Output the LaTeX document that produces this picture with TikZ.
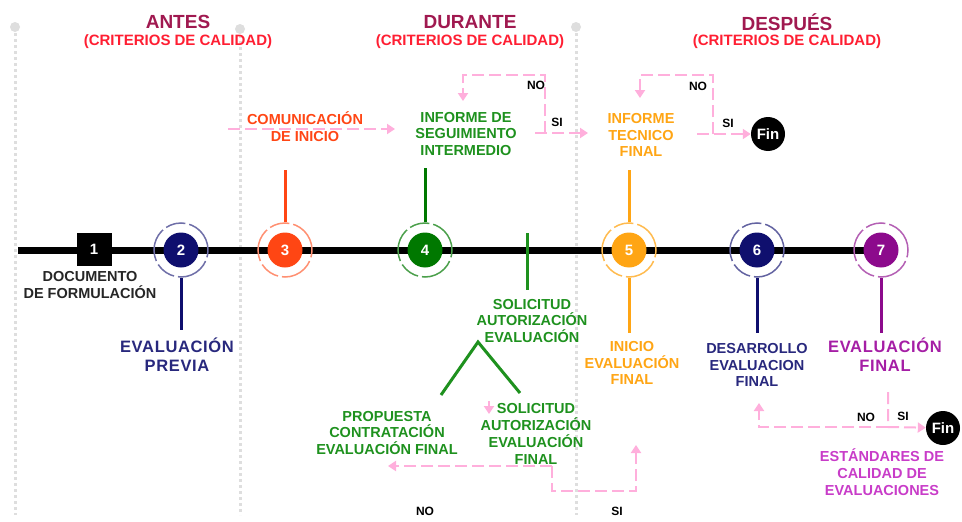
\documentclass[tikz,border=0pt]{standalone}
\usepackage{fontspec}
\setmainfont{Liberation Sans}
\newfontfamily\ancha[LetterSpace=4]{Liberation Sans}
\usepackage{xcolor}
\usepackage{tikz}
\usetikzlibrary{arrows.meta}
\definecolor{titulo}{RGB}{160,25,80}
\definecolor{criterio}{RGB}{255,30,50}
\definecolor{rosa}{RGB}{255,175,220}
\definecolor{gris}{RGB}{222,222,222}
\definecolor{rojo}{RGB}{255,70,20}
\definecolor{verde}{RGB}{30,145,30}
\definecolor{verdeo}{RGB}{0,120,0}
\definecolor{naranja}{RGB}{255,165,20}
\definecolor{azul}{RGB}{15,15,110}
\definecolor{azulc}{RGB}{40,40,125}
\definecolor{morado}{RGB}{140,10,140}
\definecolor{moradoc}{RGB}{165,30,165}
\definecolor{lila}{RGB}{200,60,200}
\tikzstyle{circulo} = [circle, minimum size=35pt, inner sep=0pt, text=white, font=\bfseries\fontsize{15}{15}\selectfont]
\tikzstyle{anillo} = [circle, minimum size=54pt, inner sep=0pt, line width=1.5pt, dash pattern=on 34pt off 4pt on 20pt off 4pt]
\tikzstyle{etiqueta} = [align=center, inner sep=0pt, font=\bfseries\fontsize{14.5}{16.8}\selectfont]
\tikzstyle{grande} = [align=center, inner sep=0pt, font=\ancha\bfseries\fontsize{16.5}{19}\selectfont]
\tikzstyle{rama} = [line width=3pt]
\tikzstyle{flecha} = [rosa, line width=2pt, dash pattern=on 12pt off 5pt, -{Triangle[length=8pt,width=10pt]}]
\tikzstyle{fin} = [circle, fill=black, minimum size=34pt, inner sep=0pt, text=white, font=\bfseries\fontsize{15}{15}\selectfont]
\tikzstyle{sino} = [inner sep=0pt, font=\bfseries\fontsize{12}{12}\selectfont]
\tikzstyle{guia} = [gris, line width=3pt, dash pattern=on 3pt off 3pt]

\begin{document}
\begin{tikzpicture}[x=1pt, y=-1pt, >=Stealth]
    \useasboundingbox (0,0) rectangle (962,522);

    % guias verticales
    \foreach \gx/\gy in {15/27, 240/29, 576/27} {
        \fill[gris] (\gx,\gy) circle (5pt);
        \draw[guia] (\gx,\gy+6) -- (\gx,515);
    }

    % titulos de etapa
    \node[text=titulo, font=\bfseries\fontsize{19}{19}\selectfont] (antes) at (178,22) {ANTES};
    \node[text=criterio, font=\bfseries\fontsize{15}{15}\selectfont] (crit1) at (178,42) {(CRITERIOS DE CALIDAD)};
    \node[text=titulo, font=\bfseries\fontsize{19}{19}\selectfont] (durante) at (470,22) {DURANTE};
    \node[text=criterio, font=\bfseries\fontsize{15}{15}\selectfont] (crit2) at (470,42) {(CRITERIOS DE CALIDAD)};
    \node[text=titulo, font=\bfseries\fontsize{19}{19}\selectfont] (despues) at (787,22) {DESPUÉS};
    \node[text=criterio, font=\bfseries\fontsize{15}{15}\selectfont] (crit3) at (787,42) {(CRITERIOS DE CALIDAD)};

    % linea de tiempo
    \coordinate (ini) at (18,250);
    \coordinate (fin7) at (867,250);
    \draw[line width=7pt] (ini) -- (fin7);

    % paso 1
    \node[fill=black, minimum width=35pt, minimum height=33pt, inner sep=0pt, text=white,
          font=\bfseries\fontsize{15}{15}\selectfont] (n1) at (94,249) {1};

    % pasos 2 a 7
    \foreach \i/\cx/\cf/\cr in {2/181/azul/azul!60, 3/285/rojo/rojo!60, 4/425/verdeo/verdeo!70,
                                5/629/naranja/naranja!75, 6/757/azul/azul!65, 7/881/morado/morado!65} {
        \node[circulo, fill=\cf] (n\i) at (\cx,250) {\i};
        \node[anillo, draw=\cr] (r\i) at (\cx,250) {};
    }

    % ramas
    \coordinate (s2) at (181,330);
    \coordinate (s3) at (285,170);
    \coordinate (s4) at (425,168);
    \coordinate (s5a) at (629,170);
    \coordinate (s5b) at (629,333);
    \coordinate (s6) at (757,333);
    \coordinate (s7) at (881,333);
    \draw[rama, azul] (r2) -- (s2);
    \draw[rama, rojo] (s3) -- (r3);
    \draw[rama, verdeo] (s4) -- (r4);
    \draw[rama, naranja] (s5a) -- (r5);
    \draw[rama, naranja] (r5) -- (s5b);
    \draw[rama, azul] (r6) -- (s6);
    \draw[rama, morado] (r7) -- (s7);

    % solicitud y bifurcacion
    \coordinate (t1) at (527,233);
    \coordinate (t2) at (527,290);
    \draw[rama, verde] (t1) -- (t2);
    \coordinate (v1) at (441,395);
    \coordinate (v2) at (478,342);
    \coordinate (v3) at (520,393);
    \draw[rama, verde] (v1) -- (v2) -- (v3);

    % fin
    \node[fin] (fin1) at (768,134) {Fin};
    \node[fin] (fin2) at (943,428) {Fin};

    % flechas rosadas
    \coordinate (p1) at (228,129);
    \coordinate (p2) at (395,129);
    \draw[flecha] (p1) -- (p2);

    \coordinate (a1) at (535,133);
    \coordinate (a2) at (545,133);
    \coordinate (a3) at (545,75);
    \coordinate (a4) at (463,75);
    \coordinate (a5) at (463,101);
    \coordinate (a6) at (588,133);
    \draw[flecha] (a1) -- (a6);
    \draw[flecha] (a2) -- (a3) -- (a4) -- (a5);

    \coordinate (b1) at (697,134);
    \coordinate (b2) at (713,134);
    \coordinate (b3) at (713,75);
    \coordinate (b4) at (640,75);
    \coordinate (b5) at (640,98);
    \draw[flecha] (b1) -- (fin1);
    \draw[flecha] (b2) -- (b3) -- (b4) -- (b5);

    \coordinate (c1) at (888,392);
    \coordinate (c2) at (888,427);
    \coordinate (c3) at (759,427);
    \coordinate (c4) at (759,403);
    \draw[flecha] (c1) -- (c2) -- (fin2);
    \draw[flecha] (c2) -- (c3) -- (c4);

    \coordinate (d1) at (552,466);
    \coordinate (d2) at (388,466);
    \coordinate (d3) at (552,491);
    \coordinate (d4) at (636,491);
    \coordinate (d5) at (636,445);
    \draw[flecha] (d1) -- (d2);
    \draw[flecha] (d1) -- (d3) -- (d4) -- (d5);

    \coordinate (e1) at (489,401);
    \coordinate (e2) at (489,414);
    \draw[flecha] (e1) -- (e2);

    % etiquetas
    \node[etiqueta, text=black!85] (lab1) at (90,285) {DOCUMENTO\\DE FORMULACIÓN};
    \node[grande, text=azulc] (lab2) at (177,355) {EVALUACIÓN\\PREVIA};
    \node[etiqueta, text=rojo] (lab3) at (305,127) {COMUNICACIÓN\\DE INICIO};
    \node[etiqueta, text=verde] (lab4) at (466,134) {INFORME DE\\SEGUIMIENTO\\INTERMEDIO};
    \node[etiqueta, text=naranja] (lab5a) at (641,135) {INFORME\\TECNICO\\FINAL};
    \node[etiqueta, text=naranja] (lab5b) at (632,363) {INICIO\\EVALUACIÓN\\FINAL};
    \node[etiqueta, text=azulc] (lab6) at (757,365) {DESARROLLO\\EVALUACION\\FINAL};
    \node[grande, text=moradoc] (lab7) at (885,355) {EVALUACIÓN\\FINAL};
    \node[etiqueta, text=verde] (sol1) at (532,321) {SOLICITUD\\AUTORIZACIÓN\\EVALUACIÓN};
    \node[etiqueta, text=verde] (prop) at (387,433) {PROPUESTA\\CONTRATACIÓN\\EVALUACIÓN FINAL};
    \node[etiqueta, text=verde] (sol2) at (536,434) {SOLICITUD\\AUTORIZACIÓN\\EVALUACIÓN\\FINAL};
    \node[etiqueta, text=lila] (estd) at (882,472) {ESTÁNDARES DE\\CALIDAD DE\\EVALUACIONES};

    % si / no
    \node[sino] (no1) at (536,85) {NO};
    \node[sino] (si1) at (557,122) {SI};
    \node[sino] (no2) at (698,86) {NO};
    \node[sino] (si2) at (728,123) {SI};
    \node[sino] (no3) at (866,417) {NO};
    \node[sino] (si3) at (903,416) {SI};
    \node[sino] (no4) at (425,511) {NO};
    \node[sino] (si4) at (617,511) {SI};
\end{tikzpicture}
\end{document}
